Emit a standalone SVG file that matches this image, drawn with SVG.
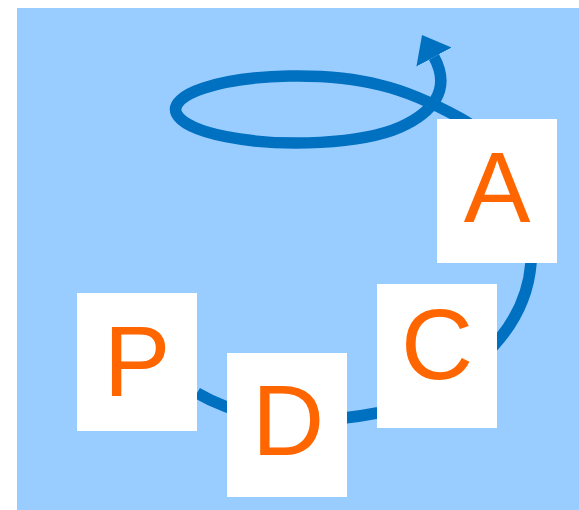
<svg xmlns="http://www.w3.org/2000/svg" width="579" height="510" viewBox="0 0 579 510">
  <style>
    .box { fill: #ffffff; }
    .lbl { font-family: "Liberation Sans", Arial, sans-serif; font-size: 100px; fill: #FF6600; text-anchor: middle; }
    .flow { fill: none; stroke: #0070C0; stroke-width: 11.5; stroke-linecap: butt; stroke-linejoin: round; }
  </style>
  <defs>
    <marker id="arrow" markerUnits="userSpaceOnUse" markerWidth="30" markerHeight="44" refX="0" refY="20" orient="auto" viewBox="0 0 30 40">
      <path d="M0,0 L25,20 L0,40 z" fill="#0070C0"/>
    </marker>
  </defs>
  <rect x="17" y="8" width="562" height="502" fill="#99CCFF"/>
  <g id="connectors">
    <path class="flow" marker-end="url(#arrow)" d="M 197 393 C 240 418 300 428 377 413 C 450 395 525 340 531 263 C 535 190 500 140 460 118 C 440 107 410 92 380 85 A 121.5 33.5 0 1 0 400 127.3 C 432 113 452 90 434 57"/>
  </g>
  <g id="node-P">
    <rect class="box" x="77" y="293" width="120" height="138"/>
    <text class="lbl" x="137" y="396">P</text>
  </g>
  <g id="node-D">
    <rect class="box" x="227" y="353" width="120" height="144"/>
    <text class="lbl" x="288" y="455">D</text>
  </g>
  <g id="node-C">
    <rect class="box" x="377" y="284" width="120" height="144"/>
    <text class="lbl" x="437" y="379">C</text>
  </g>
  <g id="node-A">
    <rect class="box" x="437" y="119" width="120" height="144"/>
    <text class="lbl" x="497" y="222">A</text>
  </g>
</svg>
